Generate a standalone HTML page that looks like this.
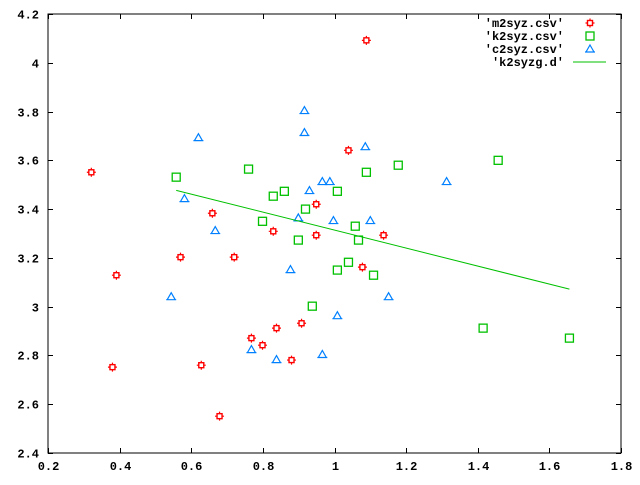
<!DOCTYPE html>
<html><head><meta charset="utf-8"><style>
body{margin:0;background:#fff;}
svg text{font-family:"Liberation Mono",monospace;font-weight:bold;font-size:12px;fill:#000;}
</style></head><body>
<svg id="chart" width="640" height="480" xmlns="http://www.w3.org/2000/svg"></svg>
<script>
const xTicks=[0.2,0.4,0.6,0.8,1,1.2,1.4,1.6,1.8];
const xTickLabels=["0.2","0.4","0.6","0.8","1","1.2","1.4","1.6","1.8"];
const yTicks=[2.4,2.6,2.8,3,3.2,3.4,3.6,3.8,4,4.2];
const yTickLabels=["2.4","2.6","2.8","3","3.2","3.4","3.6","3.8","4","4.2"];
const m2X=[0.321,0.391,0.380,0.570,0.659,0.628,0.679,0.720,0.768,0.799,0.829,0.838,0.880,0.908,0.949,0.949,1.039,1.078,1.137,1.089];
const m2Y=[3.551,3.129,2.752,3.203,3.383,2.760,2.551,3.203,2.871,2.842,3.309,2.912,2.781,2.932,3.420,3.293,3.641,3.162,3.293,4.092];
const k2X=[0.558,0.760,0.829,0.860,0.919,0.799,0.899,0.938,1.008,1.089,1.178,1.457,1.058,1.067,1.039,1.008,1.109,1.415,1.656];
const k2Y=[3.531,3.564,3.453,3.473,3.400,3.350,3.273,3.002,3.473,3.551,3.580,3.600,3.330,3.273,3.182,3.150,3.129,2.912,2.871];
const c2X=[0.916,0.916,0.620,0.581,0.930,0.899,0.667,0.877,0.544,0.768,0.838,1.086,0.966,0.987,1.313,0.997,1.100,1.151,1.008,0.966];
const c2Y=[3.804,3.714,3.693,3.443,3.476,3.364,3.312,3.152,3.041,2.824,2.783,3.656,3.513,3.513,3.513,3.353,3.353,3.041,2.963,2.804];
const fitX=[0.558,1.656];
const fitY=[3.477,3.072];

const NS="http://www.w3.org/2000/svg";
const svg=document.getElementById('chart');
const L=48,R=621,T=14,B=453;
const sx=v=>L+(v-0.2)/1.6*(R-L);
const sy=v=>B-(v-2.4)/1.8*(B-T);
function mk(tag,attrs,parent){const e=document.createElementNS(NS,tag);for(const k in attrs)e.setAttribute(k,attrs[k]);(parent||svg).appendChild(e);return e;}

const frame=mk('rect',{x:L,y:T,width:R-L,height:B-T,fill:'none',stroke:'#000','stroke-width':1});



const xg=mk('g',{});


xTicks.forEach((v,i)=>{
  const x=Math.round(sx(v))+0.5;
  mk('line',{x1:x,y1:B,x2:x,y2:B-5,stroke:'#000'},xg);
  mk('line',{x1:x,y1:T,x2:x,y2:T+5,stroke:'#000'},xg);
  const t=mk('text',{x:x,y:470,'text-anchor':'middle'},xg);
  t.textContent=xTickLabels[i];
  
  
});
const yg=mk('g',{});


yTicks.forEach((v,i)=>{
  const y=Math.round(sy(v))+0.5;
  mk('line',{x1:L,y1:y,x2:L+5,y2:y,stroke:'#000'},yg);
  mk('line',{x1:R,y1:y,x2:R-5,y2:y,stroke:'#000'},yg);
  const t=mk('text',{x:39,y:y+4,'text-anchor':'end'},yg);
  t.textContent=yTickLabels[i];
  
  
});

function circ(x,y,g){
  mk('rect',{x:x-2.5,y:y-2.5,width:5,height:5,fill:'none',stroke:'#ff0000','stroke-width':1.4},g);
  mk('path',{d:`M${x} ${y-4.5}V${y-2.5}M${x} ${y+2.5}V${y+4.5}M${x-4.5} ${y}H${x-2.5}M${x+2.5} ${y}H${x+4.5}`,stroke:'#ff0000','stroke-width':1.2},g);
}
function sq(x,y,g){mk('rect',{x:x-4,y:y-4,width:8,height:8,fill:'none',stroke:'#00c000','stroke-width':1.3},g);}
function tri(x,y,g){mk('path',{d:`M${x} ${y-4}L${x+4} ${y+3}L${x-4} ${y+3}ZM${x-5} ${y+3}H${x+5}`,fill:'none',stroke:'#0080ff','stroke-width':1.2},g);}

const gm=mk('g',{});


m2X.forEach((v,i)=>circ(sx(v),sy(m2Y[i]),gm));
const gk=mk('g',{});


k2X.forEach((v,i)=>sq(sx(v),sy(k2Y[i]),gk));
const gc=mk('g',{});


c2X.forEach((v,i)=>tri(sx(v),sy(c2Y[i]),gc));
const fl=mk('line',{x1:sx(fitX[0]),y1:sy(fitY[0]),x2:sx(fitX[1]),y2:sy(fitY[1]),stroke:'#00c000','stroke-width':1});



const lg=mk('g',{});


const labels=["'m2syz.csv'","'k2syz.csv'","'c2syz.csv'","'k2syzg.d'"];
const ly=[23,36,49,62];
labels.forEach((s,i)=>{
  const t=mk('text',{x:564,y:ly[i]+4,'text-anchor':'end'},lg);
  t.textContent=s;
  
  
});
circ(590,ly[0],lg);sq(590,ly[1],lg);tri(590,ly[2],lg);
mk('line',{x1:573,y1:ly[3],x2:606,y2:ly[3],stroke:'#00c000'},lg);
</script>
</body></html>
